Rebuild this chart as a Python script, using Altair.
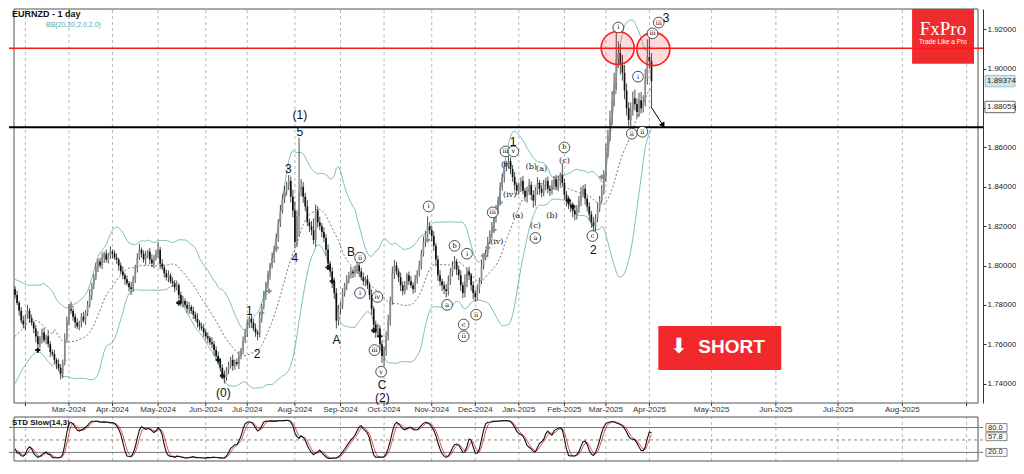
import altair as alt
import numpy as np
import pandas as pd

# ---------------- texts ----------------
symbol_title = "EURNZD - 1 day"
bb_title = "BB(20,20,2.0,2.0)"
stoch_title = "STD Slow(14,3)"

# ---------------- daily prices ----------------
holidays = ["2024-12-25", "2025-01-01"]
first_open = 1.788
closes = [
    # Jan-2024
    1.785, 1.781, 1.777, 1.772, 1.770,
    # Feb-2024
    1.774, 1.777, 1.773, 1.771, 1.768, 1.764, 1.760, 1.763, 1.766, 1.762,
    1.764, 1.760, 1.756, 1.755, 1.752, 1.750, 1.748, 1.745, 1.751, 1.762, 1.772,
    # Mar-2024
    1.779, 1.777, 1.774, 1.771, 1.769, 1.771, 1.774, 1.772, 1.776, 1.780,
    1.785, 1.790, 1.794, 1.799, 1.802, 1.800, 1.804, 1.806, 1.803, 1.805, 1.807,
    # Apr-2024
    1.806, 1.804, 1.803, 1.800, 1.797, 1.795, 1.793, 1.791, 1.789, 1.788, 1.793,
    1.799, 1.804, 1.808, 1.806, 1.803, 1.805, 1.807, 1.803, 1.801, 1.804, 1.806,
    # May-2024
    1.808, 1.801, 1.799, 1.796, 1.794, 1.795, 1.792, 1.791, 1.789, 1.790, 1.785, 1.781,
    1.782, 1.780, 1.778, 1.779, 1.777, 1.775, 1.773, 1.771, 1.769, 1.768, 1.766,
    # Jun-2024
    1.764, 1.763, 1.761, 1.760, 1.757, 1.754, 1.752, 1.748, 1.744, 1.743,
    1.747, 1.749, 1.752, 1.749, 1.751, 1.750, 1.754, 1.757, 1.762, 1.766,
    # Jul-2024
    1.770, 1.773, 1.771, 1.768, 1.766, 1.765, 1.773, 1.779, 1.785, 1.790, 1.795, 1.800,
    1.804, 1.808, 1.814, 1.822, 1.828, 1.834, 1.838, 1.841, 1.843, 1.835, 1.828,
    # Aug-2024
    1.812, 1.825, 1.838, 1.840, 1.835, 1.830, 1.822, 1.820, 1.818, 1.813, 1.828,
    1.822, 1.820, 1.817, 1.814, 1.808, 1.801, 1.797, 1.792, 1.786, 1.772, 1.778,
    # Sep-2024
    1.780, 1.786, 1.790, 1.793, 1.795, 1.797, 1.796, 1.798, 1.800, 1.797, 1.794,
    1.792, 1.793, 1.790, 1.785, 1.778, 1.770, 1.766, 1.768, 1.760, 1.754,
    # Oct-2024
    1.757, 1.764, 1.772, 1.782, 1.796, 1.800, 1.797, 1.794, 1.790, 1.787, 1.790, 1.795,
    1.792, 1.790, 1.788, 1.793, 1.796, 1.800, 1.806, 1.812, 1.816, 1.820, 1.818,
    # Nov-2024
    1.815, 1.810, 1.803, 1.795, 1.792, 1.790, 1.788, 1.787, 1.792, 1.797, 1.800,
    1.802, 1.798, 1.795, 1.790, 1.786, 1.792, 1.797, 1.795, 1.790, 1.786,
    # Dec-2024
    1.784, 1.788, 1.792, 1.800, 1.804, 1.806, 1.812, 1.816, 1.820, 1.824, 1.828,
    1.833, 1.840, 1.845, 1.850, 1.851, 1.853, 1.849, 1.845, 1.841, 1.838,
    # Jan-2025
    1.840, 1.843, 1.838, 1.835, 1.838, 1.841, 1.836, 1.833, 1.838, 1.842, 1.839,
    1.837, 1.841, 1.843, 1.839, 1.838, 1.841, 1.844, 1.840, 1.843, 1.846, 1.842,
    # Feb-2025
    1.836, 1.833, 1.831, 1.830, 1.828, 1.826, 1.829, 1.833, 1.837, 1.839,
    1.834, 1.830, 1.826, 1.822, 1.820, 1.824, 1.829, 1.833, 1.838, 1.845,
    # Mar-2025
    1.858, 1.866, 1.875, 1.884, 1.893, 1.905, 1.908, 1.902, 1.898, 1.889, 1.880,
    1.874, 1.879, 1.885, 1.882, 1.878, 1.884, 1.880, 1.883, 1.895, 1.906,
    # Apr-2025
    1.904, 1.8937,
]
# upper / lower wick length beyond the body, in pips
hi_ext = [
    15, 22, 10, 18, 25, 12, 30, 14, 20, 9,
    17, 26, 11, 19, 23, 8, 28, 16, 13, 21,
    10, 24, 18, 12, 35, 20, 15, 27, 11, 16,
    22, 9, 18, 25, 13, 20, 30, 12, 17, 24,
    14, 19, 26, 10, 21, 15, 28, 12, 18, 23,
    9, 16, 25, 13, 20, 11, 27, 18, 14, 22,
    30, 12, 17, 24, 10, 19, 26, 13, 21, 40,
    15, 22, 11, 18, 25, 12, 20, 16, 23, 9,
    17, 26, 13, 19, 24, 10, 21, 15, 28, 12,
    18, 22, 14, 20, 11, 25, 16, 19, 23, 10,
    17, 26, 13, 21, 15, 28, 12, 18, 24, 11,
    20, 16, 27, 14, 22, 19, 25, 12, 30, 15,
    21, 17, 24, 13, 26, 18, 22, 15, 28, 20,
    25, 16, 30, 22, 35, 45, 30, 270, 40, 25,
    20, 32, 18, 26, 60, 30, 22, 28, 15, 24,
    19, 27, 14, 22, 18, 25, 20, 16, 24, 12,
    21, 18, 26, 14, 20, 23, 11, 19, 25, 15,
    22, 17, 28, 13, 20, 24, 16, 21, 18, 25,
    30, 22, 35, 28, 20, 15, 24, 18, 21, 13,
    19, 26, 14, 22, 17, 25, 20, 28, 15, 50,
    22, 18, 24, 15, 21, 27, 13, 19, 25, 30,
    17, 22, 28, 14, 20, 26, 15, 35, 18, 24,
    12, 20, 16, 23, 18, 27, 14, 21, 25, 19,
    22, 15, 28, 20, 24, 17, 30, 22, 26, 18,
    20, 25, 14, 22, 18, 26, 15, 21, 30, 17,
    23, 19, 28, 14, 20, 25, 16, 22, 18, 24,
    15, 21, 27, 13, 60, 20, 18, 24, 14, 22,
    26, 17, 23, 30, 19, 25, 15, 22, 18, 26,
    20, 28, 24, 30, 35, 40, 30, 38, 45, 50,
    140, 60, 45, 50, 40, 35, 30, 40, 35, 45,
    30, 38, 42, 35, 50, 90, 110, 40,
]
lo_ext = [
    18, 12, 25, 15, 20, 28, 10, 22, 16, 24,
    30, 14, 19, 26, 12, 21, 17, 25, 13, 20,
    27, 15, 30, 22, 18, 12, 24, 16, 21, 28,
    13, 19, 25, 11, 22, 17, 14, 26, 20, 15,
    23, 12, 18, 27, 14, 20, 16, 24, 11, 21,
    26, 15, 19, 28, 12, 22, 30, 14, 18, 25,
    11, 20, 16, 27, 13, 22, 18, 24, 15, 20,
    28, 14, 21, 17, 25, 12, 19, 26, 15, 22,
    18, 24, 13, 20, 27, 16, 22, 14, 25, 19,
    12, 23, 17, 26, 15, 21, 28, 13, 24, 20,
    18, 30, 16, 22, 14, 25, 19, 12, 26, 17,
    21, 15, 24, 18, 28, 13, 22, 30, 16, 20,
    14, 25, 18, 22, 15, 27, 12, 20, 24, 16,
    22, 18, 26, 30, 35, 30, 25, 100, 28, 32,
    24, 20, 30, 26, 22, 35, 28, 20, 26, 22,
    30, 24, 28, 35, 30, 40, 25, 30, 22, 18,
    25, 20, 16, 24, 18, 22, 28, 15, 20, 26,
    19, 24, 30, 22, 28, 25, 30, 35, 50, 30,
    22, 26, 20, 28, 18, 24, 30, 22, 17, 25,
    20, 15, 24, 18, 22, 16, 20, 14, 25, 18,
    22, 30, 26, 35, 28, 24, 30, 26, 32, 22,
    18, 25, 20, 28, 24, 30, 26, 22, 30, 24,
    28, 32, 26, 18, 22, 15, 20, 14, 18, 12,
    20, 16, 22, 18, 25, 20, 28, 22, 18, 26,
    24, 30, 22, 20, 26, 18, 24, 30, 22, 28,
    35, 26, 20, 30, 24, 18, 28, 22, 26, 20,
    24, 18, 22, 28, 20, 26, 30, 24, 28, 35,
    30, 26, 22, 28, 24, 30, 26, 32, 28, 40,
    25, 20, 18, 15, 20, 25, 30, 28, 35, 30,
    40, 45, 50, 40, 45, 38, 30, 35, 28, 32,
    30, 25, 28, 22, 20, 30, 40, 130,
]

# Bollinger band values before 20 bars of history are available
bb_head_idx = [0, 2, 4, 6, 8, 10, 12, 14, 16, 18]
bb_head_upper = [1.793, 1.792, 1.791, 1.790, 1.790, 1.790, 1.790, 1.791, 1.789, 1.787]
bb_head_mid = [1.764, 1.766, 1.768, 1.771, 1.773, 1.772, 1.771, 1.769, 1.767, 1.765]
bb_head_lower = [1.740, 1.744, 1.748, 1.751, 1.754, 1.756, 1.756, 1.754, 1.751, 1.749]

# axis ticks / labels
price_ticks = [1.74, 1.76, 1.78, 1.80, 1.82, 1.84, 1.86, 1.88, 1.90, 1.92]
month_starts = ["2024-02-01", "2024-03-01", "2024-04-01", "2024-05-01", "2024-06-01",
                "2024-07-01", "2024-08-01", "2024-09-01", "2024-10-01", "2024-11-01",
                "2024-12-01", "2025-01-01", "2025-02-01", "2025-03-01", "2025-04-01",
                "2025-05-01", "2025-06-01", "2025-07-01", "2025-08-01", "2025-09-01"]
month_labels = ["", "Mar-2024", "Apr-2024", "May-2024", "Jun-2024", "Jul-2024", "Aug-2024",
                "Sep-2024", "Oct-2024", "Nov-2024", "Dec-2024", "Jan-2025", "Feb-2025",
                "Mar-2025", "Apr-2025", "May-2025", "Jun-2025", "Jul-2025", "Aug-2025", ""]

# levels
resistance = 1.9105
support = 1.8703
bid_price = 1.89374
line_price = 1.88059
stoch_levels = [80, 20]
stoch_mid = [50]
stoch_label_vals = [80.0, 57.8, 20.0]
stoch_label_txt = ["80.0", "57.8", "20.0"]

# wave labels: (bar index, price, text)
big_i = [137.4, 137.4, 131.8, 135.0, 113.0, 116.8, 100.5, 155.1, 162.0, 177.0, 177.2, 240.2, 279.0, 314.0]
big_p = [1.8765, 1.8680, 1.849, 1.804, 1.777, 1.755, 1.735, 1.762, 1.807, 1.7395, 1.7325, 1.863, 1.808, 1.926]
big_t = ["(1)", "5", "3", "4", "1", "2", "(0)", "A", "B", "C", "(2)", "1", "2", "3"]

circ_i = [166.4, 166.4, 174.8, 173.4, 176.6, 199.5, 212.0, 218.0, 208.4, 216.4, 216.4, 222.4,
          230.4, 236.6, 240.4, 251.0, 265.0, 278.5, 291.0, 297.5, 300.5, 302.6, 307.5, 310.5]
circ_p = [1.804, 1.786, 1.784, 1.757, 1.746, 1.830, 1.810, 1.806, 1.780, 1.770, 1.764, 1.775,
          1.827, 1.858, 1.858, 1.814, 1.860, 1.815, 1.921, 1.867, 1.896, 1.868, 1.918, 1.9235]
circ_t = ["ii", "i", "iv", "iii", "v", "i", "b", "i", "a", "c", "ii", "ii",
          "iii", "iii", "v", "a", "b", "c", "i", "ii", "i", "ii", "iii", "iii"]

par_i = [232.4, 237.0, 238.6, 242.5, 249.0, 254.0, 259.0, 251.0, 265.0]
par_p = [1.812, 1.851, 1.836, 1.825, 1.850, 1.849, 1.825, 1.820, 1.853]
par_t = ["(iv)", "(v)", "(iv)", "(a)", "(b)", "(a)", "(b)", "(c)", "(c)"]

# indicator arrows on the candles
sig_i = [27, 119, 122.5, 126, 130, 199, 226, 228, 231, 234, 283, 289,
         11, 79, 98, 100, 151, 153, 173, 176, 267, 269]
sig_p = [1.779, 1.776, 1.787, 1.809, 1.836, 1.813, 1.805, 1.809, 1.818, 1.832, 1.845, 1.888,
         1.757, 1.781, 1.752, 1.744, 1.799, 1.792, 1.767, 1.764, 1.833, 1.830]
sig_k = ["buy"] * 12 + ["sell"] * 10

# highlight circles and projected move arrow
hl_i = [290.7, 307.9]
hl_p = [1.9106, 1.9100]
arrow_i = [306.8, 312.6]
arrow_p = [1.8807, 1.8712]

# ---------------- derived tables ----------------
n = len(closes)
dates = pd.bdate_range("2024-01-25", "2025-04-02")
dates = dates[~dates.isin(pd.to_datetime(holidays))][:n]
idx = np.arange(n)
opens = [first_open] + closes[:-1]
highs = [max(o, c) + h / 10000 for o, c, h in zip(opens, closes, hi_ext)]
lows = [min(o, c) - l / 10000 for o, c, l in zip(opens, closes, lo_ext)]
m = min(len(highs), len(lows), n)
candles = pd.DataFrame({"i": idx[:m], "open": opens[:m], "close": closes[:m],
                        "high": highs[:m], "low": lows[:m]})
candles["dir"] = np.where(candles["close"] >= candles["open"], "up", "down")

cs = pd.Series(closes[:m], dtype=float)
mid = cs.rolling(20).mean()
sd = cs.rolling(20).std(ddof=0)
bb_calc = pd.DataFrame({"i": idx[:m], "mid": mid, "up": mid + 2 * sd, "lo": mid - 2 * sd}).dropna()
bb_head = pd.DataFrame({"i": bb_head_idx, "mid": bb_head_mid, "up": bb_head_upper, "lo": bb_head_lower})
bb = pd.concat([bb_head, bb_calc], ignore_index=True)

hs = pd.Series(highs[:m])
ls = pd.Series(lows[:m])
hh = hs.rolling(14, min_periods=1).max()
ll = ls.rolling(14, min_periods=1).min()
k = 100 * (cs - ll).rolling(3, min_periods=1).sum() / (hh - ll).rolling(3, min_periods=1).sum()
d = k.rolling(3, min_periods=1).mean()
stoch = pd.DataFrame({"i": idx[:m], "k": k, "d": d})

slots = []
for ms in pd.to_datetime(month_starts):
    if ms <= dates[-1]:
        slots.append(int(dates.searchsorted(ms)))
    else:
        slots.append(int(m - 1 + (ms - dates[-1]).days))

# ---------------- scales ----------------
W, H = 974, 452
MAIN_BOTTOM = 394
ST_TOP = 408
X_LO, X_HI = -0.5, 464.5
P_LO, P_HI = 1.7301, 1.9304
S_LO, S_HI = -0.77, 105.4
XS = alt.Scale(domain=[X_LO, X_HI], nice=False, zero=False)
PS = alt.Scale(domain=[P_LO, P_HI], range=[MAIN_BOTTOM, 0], nice=False, zero=False)
SS = alt.Scale(domain=[S_LO, S_HI], range=[H, ST_TOP], nice=False, zero=False)

months = pd.DataFrame({"slot": slots, "label": month_labels, "p0": P_LO, "p1": P_HI, "s0": S_LO, "s1": S_HI})
frame_p = pd.DataFrame({"x0": [X_LO], "x1": [X_HI], "y0": [P_LO], "y1": [P_HI]})
frame_s = pd.DataFrame({"x0": [X_LO], "x1": [X_HI], "y0": [S_LO], "y1": [S_HI]})

price_axis = alt.Axis(orient="right", values=price_ticks, format=".5f", labelFontSize=8,
                      labelFont="Liberation Sans", labelColor="#222", tickSize=3, tickColor="#333",
                      domainColor="#333", grid=False, title=None, labelPadding=1)


def xq(f):
    return alt.X(f, type="quantitative", scale=XS, axis=None)


def yp(f):
    return alt.Y(f, type="quantitative", scale=PS, axis=price_axis)


def ys(f):
    return alt.Y(f, type="quantitative", scale=SS, axis=None)


# ---------------- price panel ----------------
grid_main = alt.Chart(months).mark_rule(color="#9a9a9a", strokeWidth=0.7, strokeDash=[3, 3]).encode(
    x=xq("slot"), y=yp("p0"), y2=alt.Y2("p1"))
month_ticks = alt.Chart(months).mark_rule(color="#333", strokeWidth=1).encode(
    x=xq("slot"), y=alt.value(MAIN_BOTTOM), y2=alt.value(MAIN_BOTTOM + 3))
month_text = alt.Chart(months).mark_text(fontSize=8, font="Liberation Sans", color="#333",
                                         baseline="middle").encode(
    x=xq("slot"), y=alt.value(MAIN_BOTTOM + 7), text="label:N")
frame_main = alt.Chart(frame_p).mark_rect(fillOpacity=0, stroke="#555", strokeWidth=1).encode(
    x=xq("x0"), x2=alt.X2("x1"), y=yp("y0"), y2=alt.Y2("y1"))

logo_box = alt.Chart(pd.DataFrame({"x0": [432.7], "x1": [462.6], "y0": [1.9026], "y1": [P_HI]})).mark_rect(
    color="#ef2b2d").encode(x=xq("x0"), x2=alt.X2("x1"), y=yp("y0"), y2=alt.Y2("y1"))
logo_t1 = alt.Chart(pd.DataFrame({"i": [447.6], "p": [1.9200], "t": ["FxPro"]})).mark_text(
    font="Liberation Serif", fontSize=19, color="white", baseline="middle").encode(
    x=xq("i"), y=yp("p"), text="t:N")
logo_t2 = alt.Chart(pd.DataFrame({"i": [447.6], "p": [1.9134], "t": ["Trade Like a Pro"]})).mark_text(
    font="Liberation Sans", fontSize=6.5, color="white", baseline="middle").encode(
    x=xq("i"), y=yp("p"), text="t:N")

res_line = alt.Chart(pd.DataFrame({"p": [resistance]})).mark_rule(color="#ff1a1a", strokeWidth=1.5).encode(
    y=yp("p"))
sup_line = alt.Chart(pd.DataFrame({"p": [support]})).mark_rule(color="#000000", strokeWidth=2).encode(
    y=yp("p"))

bb_up = alt.Chart(bb).mark_line(color="#7fbfc1", strokeWidth=1).encode(x=xq("i"), y=yp("up"))
bb_lo = alt.Chart(bb).mark_line(color="#7fbfc1", strokeWidth=1).encode(x=xq("i"), y=yp("lo"))
bb_mid = alt.Chart(bb).mark_line(color="#555", strokeWidth=0.8, strokeDash=[2, 2]).encode(x=xq("i"), y=yp("mid"))

wicks = alt.Chart(candles).mark_rule(color="#222", strokeWidth=0.8).encode(
    x=xq("i"), y=yp("low"), y2=alt.Y2("high"))
bodies = alt.Chart(candles).mark_bar(size=1.7).encode(
    x=xq("i"), y=yp("open"), y2=alt.Y2("close"),
    color=alt.Color("dir:N", scale=alt.Scale(domain=["up", "down"], range=["#8c8c8c", "#111111"]), legend=None))

signals = alt.Chart(pd.DataFrame({"i": sig_i, "p": sig_p, "k": sig_k})).mark_point(
    shape="cross", filled=True, size=26, opacity=1).encode(
    x=xq("i"), y=yp("p"),
    color=alt.Color("k:N", scale=alt.Scale(domain=["buy", "sell"], range=["#1fa01f", "#c81e1e"]), legend=None))

hl = alt.Chart(pd.DataFrame({"i": hl_i, "p": hl_p})).mark_circle(
    size=1090, fill="#ff0000", fillOpacity=0.14, stroke="#ff1a1a", strokeWidth=1.6, strokeOpacity=1).encode(
    x=xq("i"), y=yp("p"))

arrow_df = pd.DataFrame({"i0": [arrow_i[0]], "i1": [arrow_i[1]], "p0": [arrow_p[0]], "p1": [arrow_p[1]]})
arrow_line = alt.Chart(arrow_df).mark_rule(color="#000", strokeWidth=1).encode(
    x=xq("i0"), x2=alt.X2("i1"), y=yp("p0"), y2=alt.Y2("p1"))
arrow_head = alt.Chart(pd.DataFrame({"i": [arrow_i[1]], "p": [arrow_p[1]]})).mark_point(
    shape="triangle-up", filled=True, color="#000", size=40, angle=149, opacity=1).encode(
    x=xq("i"), y=yp("p"))

big_lbl = alt.Chart(pd.DataFrame({"i": big_i, "p": big_p, "t": big_t})).mark_text(
    font="Liberation Sans", fontSize=12, color="#111", baseline="middle").encode(
    x=xq("i"), y=yp("p"), text="t:N")
circ_df = pd.DataFrame({"i": circ_i, "p": circ_p, "t": circ_t})
circ_bg = alt.Chart(circ_df).mark_circle(size=115, fill="white", stroke="#222", strokeWidth=0.8, opacity=1).encode(
    x=xq("i"), y=yp("p"))
circ_txt = alt.Chart(circ_df).mark_text(font="DejaVu Serif", fontSize=6.5, color="#000", baseline="middle").encode(
    x=xq("i"), y=yp("p"), text="t:N")
par_lbl = alt.Chart(pd.DataFrame({"i": par_i, "p": par_p, "t": par_t})).mark_text(
    font="DejaVu Serif", fontSize=8, color="#111", baseline="middle").encode(
    x=xq("i"), y=yp("p"), text="t:N")

short_box = alt.Chart(pd.DataFrame({"x0": [310.3], "x1": [369.6], "y0": [1.7469], "y1": [1.7692]})).mark_rect(
    color="#f2292c").encode(x=xq("x0"), x2=alt.X2("x1"), y=yp("y0"), y2=alt.Y2("y1"))
short_arrow = alt.Chart(pd.DataFrame({"i": [320.3], "p": [1.7586], "t": ["\u2b07"]})).mark_text(
    font="DejaVu Sans", fontSize=21, color="white", baseline="middle").encode(
    x=xq("i"), y=yp("p"), text="t:N")
short_txt = alt.Chart(pd.DataFrame({"i": [345.6], "p": [1.7586], "t": ["SHORT"]})).mark_text(
    font="Liberation Sans", fontSize=19, fontWeight="bold", color="white", baseline="middle").encode(
    x=xq("i"), y=yp("p"), text="t:N")

val_df = pd.DataFrame({"p": [bid_price, line_price], "p0": [bid_price - 0.0029, line_price - 0.0029],
                       "p1": [bid_price + 0.0029, line_price + 0.0029],
                       "t": [f"{bid_price:.5f}", f"{line_price:.5f}"], "kind": ["bid", "line"]})
val_box = alt.Chart(val_df).mark_rect(strokeWidth=0.8).encode(
    x=alt.value(W + 2), x2=alt.value(W + 32), y=yp("p0"), y2=alt.Y2("p1"),
    fill=alt.Fill("kind:N", scale=alt.Scale(domain=["bid", "line"], range=["#cfe4ec", "#ffffff"]), legend=None),
    stroke=alt.Stroke("kind:N", scale=alt.Scale(domain=["bid", "line"], range=["#8fb8c4", "#444444"]), legend=None))
val_txt = alt.Chart(val_df).mark_text(font="Liberation Sans", fontSize=8, color="#222", align="left",
                                      baseline="middle").encode(
    x=alt.value(W + 4), y=yp("p"), text="t:N")

title_txt = alt.Chart(pd.DataFrame({"t": [symbol_title]})).mark_text(
    font="Liberation Sans", fontSize=9, fontWeight="bold", color="#111", align="left", baseline="top").encode(
    x=alt.value(3), y=alt.value(1), text="t:N")
bb_txt = alt.Chart(pd.DataFrame({"t": [bb_title]})).mark_text(
    font="Liberation Sans", fontSize=7, color="#5aa7ab", align="left", baseline="top").encode(
    x=alt.value(37), y=alt.value(12), text="t:N")

price_panel = alt.layer(
    grid_main, frame_main, logo_box, logo_t1, logo_t2, month_ticks, month_text,
    bb_up, bb_lo, bb_mid, wicks, bodies, signals, res_line, sup_line, hl,
    arrow_line, arrow_head, circ_bg, circ_txt, par_lbl, big_lbl,
    short_box, short_arrow, short_txt, val_box, val_txt, title_txt, bb_txt)

# ---------------- stochastic panel ----------------
grid_st = alt.Chart(months).mark_rule(color="#9a9a9a", strokeWidth=0.7, strokeDash=[3, 3]).encode(
    x=xq("slot"), y=ys("s0"), y2=alt.Y2("s1"))
frame_st = alt.Chart(frame_s).mark_rect(fillOpacity=0, stroke="#555", strokeWidth=1).encode(
    x=xq("x0"), x2=alt.X2("x1"), y=ys("y0"), y2=alt.Y2("y1"))
lvl = alt.Chart(pd.DataFrame({"v": stoch_levels})).mark_rule(color="#666", strokeWidth=0.9).encode(y=ys("v"))
lvl_mid = alt.Chart(pd.DataFrame({"v": stoch_mid})).mark_rule(color="#666", strokeWidth=0.8,
                                                              strokeDash=[3, 3]).encode(y=ys("v"))
k_line = alt.Chart(stoch).mark_line(color="#111", strokeWidth=1.1).encode(x=xq("i"), y=ys("k"))
d_line = alt.Chart(stoch).mark_line(color="#d42a2a", strokeWidth=0.8).encode(x=xq("i"), y=ys("d"))
st_df = pd.DataFrame({"v": stoch_label_vals, "v0": [v - 9.5 for v in stoch_label_vals],
                      "v1": [v + 9.5 for v in stoch_label_vals], "t": stoch_label_txt})
st_box = alt.Chart(st_df).mark_rect(fill="white", stroke="#555", strokeWidth=0.7).encode(
    x=alt.value(W + 3), x2=alt.value(W + 24), y=ys("v0"), y2=alt.Y2("v1"))
st_lbl = alt.Chart(st_df).mark_text(font="Liberation Sans", fontSize=7.5, color="#222", align="left",
                                    baseline="middle").encode(
    x=alt.value(W + 5), y=ys("v"), text="t:N")
st_title = alt.Chart(pd.DataFrame({"t": [stoch_title]})).mark_text(
    font="Liberation Sans", fontSize=8, fontWeight="bold", color="#111", align="left", baseline="middle").encode(
    x=alt.value(3), y=alt.value(ST_TOP + 6), text="t:N")

stoch_panel = alt.layer(grid_st, frame_st, lvl, lvl_mid, d_line, k_line, st_box, st_lbl, st_title)

chart = alt.layer(price_panel, stoch_panel).resolve_scale(y="independent").properties(
    width=W, height=H, padding=0, background="white").configure_view(stroke=None)

chart.save("out.html", embed_options={"renderer": "svg", "actions": False})
